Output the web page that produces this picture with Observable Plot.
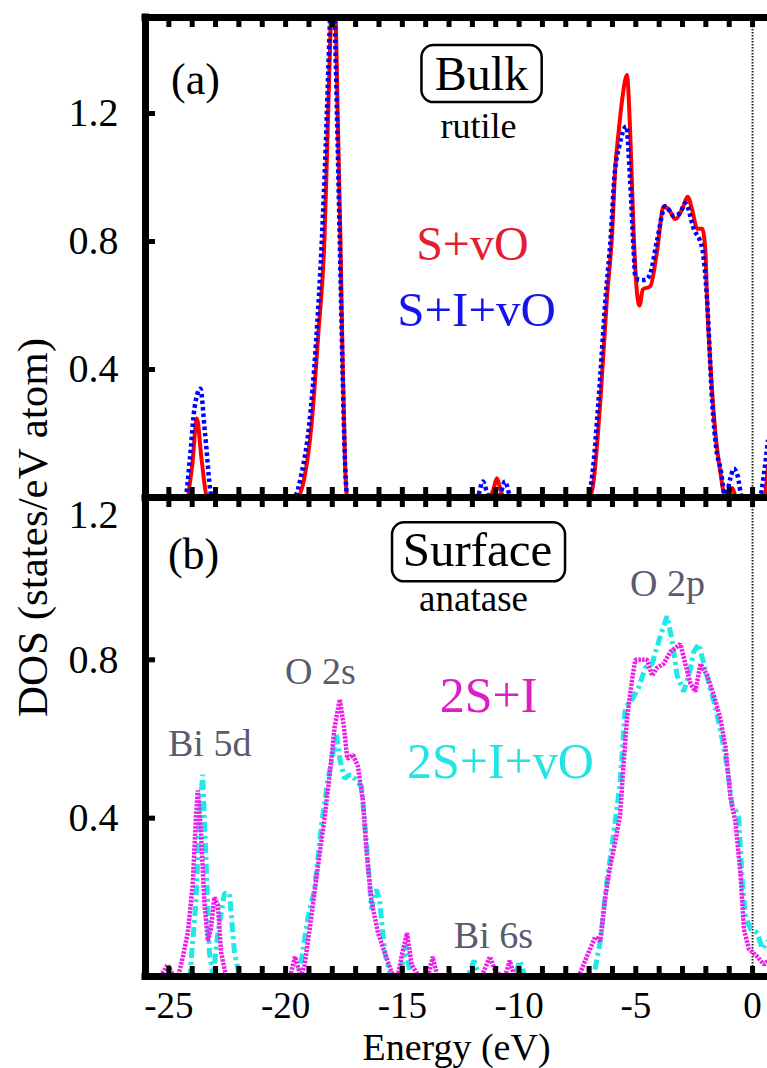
<!DOCTYPE html>
<html>
<head>
<meta charset="utf-8">
<script src="https://cdn.jsdelivr.net/npm/d3@7"></script>
<script src="https://cdn.jsdelivr.net/npm/@observablehq/plot@0.6"></script>
<style>
  html, body { margin: 0; padding: 0; background: #fff; }
  #chart { width: 767px; height: 1068px; overflow: hidden; }
  #chart svg { display: block; }
</style>
</head>
<body>
<div id="chart"></div>
<script>
// ---------- data (energy in eV, DOS in states/eV atom) ----------
const xDomain = [-26, 0.64];
const energyTicks = d3.range(-25, 1);           // minor ticks every 1 eV
const energyTickLabels = [-25, -20, -15, -10, -5, 0];
const bulkTicks = [0.4, 0.8, 1.2];
const surfTicks = [0.4, 0.8];
const surfTopLabel = [1.2];

// (a) Bulk rutile: S+vO (red, solid)
const bulkSvO = [
  [-26, 0], [-24.25, 0], [-24.0, 0.1], [-23.8, 0.247], [-23.6, 0.12], [-23.35, 0],
  [-19.5, 0], [-19.2, 0.06], [-18.9, 0.22], [-18.6, 0.51], [-18.33, 0.82], [-18.2, 1.14],
  [-18.08, 1.45], [-17.95, 1.72], [-17.85, 1.5], [-17.77, 1.2], [-17.65, 0.8], [-17.55, 0.4],
  [-17.45, 0.1], [-17.35, 0],
  [-11.3, 0], [-11.1, 0.025], [-10.95, 0.06], [-10.8, 0.025], [-10.65, 0],
  [-7.0, 0], [-6.85, 0.03], [-6.52, 0.3], [-6.24, 0.62], [-6.02, 0.82], [-5.88, 1.03],
  [-5.74, 1.14], [-5.59, 1.24], [-5.38, 1.32], [-5.24, 1.14], [-5.09, 0.82], [-4.95, 0.64],
  [-4.84, 0.6], [-4.7, 0.65], [-4.38, 0.66], [-4.09, 0.77], [-3.81, 0.91], [-3.59, 0.9],
  [-3.3, 0.87], [-3.02, 0.9], [-2.78, 0.94], [-2.59, 0.9], [-2.37, 0.84], [-2.16, 0.84],
  [-2.02, 0.77], [-1.95, 0.62], [-1.8, 0.41], [-1.59, 0.2], [-1.37, 0.075], [-1.2, 0.01],
  [-1.0, 0.02], [-0.87, 0.03], [-0.7, 0], [0.5, 0], [0.66, 0.1]
];
// (a) Bulk rutile: S+I+vO (blue, dotted)
const bulkSIvO = [
  [-26, 0], [-24.3, 0], [-24.1, 0.12], [-23.9, 0.28], [-23.65, 0.34], [-23.45, 0.2], [-23.15, 0],
  [-19.65, 0], [-19.3, 0.08], [-19.0, 0.22], [-18.7, 0.48], [-18.45, 0.8], [-18.28, 1.1],
  [-18.12, 1.45], [-18.0, 1.7], [-17.9, 1.5], [-17.8, 1.2], [-17.68, 0.8], [-17.56, 0.4],
  [-17.45, 0.1], [-17.35, 0],
  [-11.8, 0], [-11.55, 0.05], [-11.3, 0.005], [-10.85, 0.005], [-10.6, 0.05], [-10.35, 0],
  [-7.1, 0], [-6.9, 0.05], [-6.6, 0.3], [-6.3, 0.62], [-6.07, 0.82], [-5.92, 1.0], [-5.7, 1.1],
  [-5.41, 1.16], [-5.25, 1.0], [-5.1, 0.78], [-5.02, 0.69], [-4.84, 0.68], [-4.6, 0.68],
  [-4.38, 0.7], [-4.1, 0.8], [-3.73, 0.91], [-3.37, 0.88], [-3.1, 0.89], [-2.88, 0.92],
  [-2.52, 0.84], [-2.16, 0.78], [-1.95, 0.62], [-1.73, 0.3], [-1.55, 0.15], [-1.37, 0.09],
  [-1.16, 0], [-0.95, 0.06], [-0.8, 0.09], [-0.65, 0.07], [-0.44, 0], [0.3, 0], [0.5, 0.08],
  [0.66, 0.18]
];
// (b) Surface anatase: 2S+I (magenta, dotted)
const surf2SI = [
  [-26, 0], [-25.35, 0], [-25.05, 0.03], [-24.8, 0], [-24.6, 0], [-24.4, 0.05], [-24.19, 0.11],
  [-23.98, 0.23], [-23.84, 0.4], [-23.76, 0.47], [-23.62, 0.36], [-23.48, 0.19], [-23.33, 0.09],
  [-23.2, 0.12], [-23.05, 0.2], [-22.9, 0.18], [-22.76, 0.06], [-22.55, 0],
  [-19.8, 0], [-19.6, 0.05], [-19.35, 0], [-19.18, 0.03], [-18.9, 0.15], [-18.61, 0.28],
  [-18.33, 0.4], [-18.11, 0.51], [-17.9, 0.63], [-17.68, 0.7], [-17.5, 0.63], [-17.36, 0.55],
  [-17.11, 0.56], [-16.9, 0.53], [-16.68, 0.44], [-16.54, 0.32], [-16.32, 0.19], [-16.04, 0.11],
  [-15.75, 0.06], [-15.46, 0.01], [-15.2, 0], [-15.0, 0.06], [-14.8, 0.11], [-14.6, 0.03],
  [-14.3, 0], [-13.9, 0], [-13.7, 0.05], [-13.5, 0],
  [-11.6, 0], [-11.25, 0.05], [-11.0, 0.01], [-10.6, 0], [-10.4, 0.04], [-10.2, 0],
  [-7.5, 0], [-7.38, 0.01], [-7.1, 0.05], [-6.74, 0.1], [-6.52, 0.09], [-6.31, 0.2],
  [-6.09, 0.28], [-5.88, 0.34], [-5.67, 0.41], [-5.52, 0.54], [-5.38, 0.65], [-5.16, 0.75],
  [-5.02, 0.8], [-4.73, 0.8], [-4.52, 0.8], [-4.3, 0.76], [-4.09, 0.78], [-3.81, 0.79],
  [-3.52, 0.82], [-3.3, 0.83], [-3.09, 0.84], [-2.88, 0.79], [-2.66, 0.74], [-2.45, 0.72],
  [-2.23, 0.79], [-1.94, 0.76], [-1.66, 0.71], [-1.37, 0.65], [-1.16, 0.58], [-0.94, 0.45],
  [-0.73, 0.39], [-0.52, 0.26], [-0.37, 0.12], [-0.16, 0.07], [0.2, 0.05], [0.49, 0.03],
  [0.66, 0.04]
];
// (b) Surface anatase: 2S+I+vO (cyan, dash-dot)
const surf2SIvO = [
  [-26, 0], [-24.1, 0], [-23.84, 0.19], [-23.69, 0.4], [-23.55, 0.51], [-23.4, 0.28],
  [-23.26, 0.06], [-23.1, 0], [-22.9, 0.11], [-22.62, 0.21], [-22.4, 0.21], [-22.19, 0.06],
  [-21.97, 0],
  [-19.5, 0], [-19.3, 0.05], [-19.04, 0.15], [-18.76, 0.22], [-18.47, 0.38], [-18.18, 0.5],
  [-17.82, 0.61], [-17.68, 0.55], [-17.47, 0.5], [-17.25, 0.51], [-17.04, 0.5], [-16.75, 0.48],
  [-16.54, 0.34], [-16.32, 0.17], [-16.11, 0.22], [-15.97, 0.19], [-15.75, 0.06], [-15.5, 0],
  [-15.1, 0], [-14.85, 0.08], [-14.65, 0],
  [-12.2, 0], [-11.93, 0.04], [-11.7, 0], [-10.2, 0], [-9.96, 0.04], [-9.75, 0],
  [-6.8, 0], [-6.52, 0.09], [-6.24, 0.24], [-5.95, 0.36], [-5.67, 0.49], [-5.45, 0.68],
  [-5.16, 0.7], [-4.88, 0.73], [-4.59, 0.78], [-4.3, 0.79], [-3.95, 0.86], [-3.66, 0.91],
  [-3.45, 0.85], [-3.23, 0.76], [-2.95, 0.72], [-2.73, 0.76], [-2.52, 0.82], [-2.3, 0.84],
  [-2.09, 0.79], [-1.87, 0.74], [-1.59, 0.68], [-1.3, 0.6], [-1.09, 0.53], [-0.87, 0.43],
  [-0.73, 0.42], [-0.59, 0.4], [-0.44, 0.24], [-0.3, 0.15], [-0.09, 0.12], [0.2, 0.11],
  [0.42, 0.07], [0.66, 0.09]
];

// text labels
const panelLabels = ["(a)", "(b)"];
const phaseTitles = ["Bulk", "Surface"];
const phaseSubtitles = ["rutile", "anatase"];
const bulkSeriesNames = ["S+vO", "S+I+vO"];
const surfSeriesNames = ["2S+I", "2S+I+vO"];
const orbitalLabels = ["Bi 5d", "O 2s", "Bi 6s", "O 2p"];
const xLabel = "Energy (eV)";
const yLabel = "DOS (states/eV atom)";

// ---------- drawing ----------
const fontFam = "'Liberation Serif', 'DejaVu Serif', serif";
const fmt = d3.format(".1f");
const W = 767, ML = 145;
const innerW = W - ML;
const FRAME = 7, TICKW = 5, TICKL = 10;

function note(txt, x, y, opts = {}) {
  return Plot.text([txt], {x, y, text: d => d, lineAnchor: "bottom", textAnchor: "middle", fontFamily: fontFam, ...opts});
}
function frameMarks(yTop, innerH, yTicks, drawTop) {
  const m = [
    Plot.ruleX([xDomain[0]], {stroke: "#000", strokeWidth: FRAME, strokeLinecap: "square"}),
    Plot.ruleY([0], {stroke: "#000", strokeWidth: FRAME, strokeLinecap: "square"}),
    Plot.ruleX(energyTicks, {x: d => d, stroke: "#000", strokeWidth: TICKW, insetBottom: innerH - TICKL}),
    Plot.ruleX(energyTicks, {x: d => d, stroke: "#000", strokeWidth: TICKW, insetTop: innerH - TICKL}),
    Plot.ruleY(yTicks, {y: d => d, stroke: "#000", strokeWidth: TICKW, insetRight: innerW - TICKL})
  ];
  if (drawTop) m.push(Plot.ruleY([yTop], {stroke: "#000", strokeWidth: FRAME, strokeLinecap: "square"}));
  return m;
}
const svgStyle = `font-family: ${fontFam}; font-size: 40px; background: transparent; overflow: visible; color: #000;`;
const fermi = [0];

const hA = 497, mtA = 17, innerHA = hA - mtA;
const yTopA = 1.5;
const panelA = Plot.plot({
  width: W, height: hA, marginTop: mtA, marginBottom: 0, marginLeft: ML, marginRight: 0,
  x: {domain: xDomain, axis: null},
  y: {domain: [0, yTopA]},
  style: svgStyle,
  marks: [
    Plot.ruleX(fermi, {stroke: "#222", strokeWidth: 2, strokeDasharray: "1.5,1.5"}),
    Plot.line(bulkSvO, {x: d => d[0], y: d => d[1], stroke: "#ff0000", strokeWidth: 4, curve: "monotone-x", clip: true}),
    Plot.line(bulkSIvO, {x: d => d[0], y: d => d[1], stroke: "#0000ff", strokeWidth: 4.5, strokeDasharray: "3.5,3", strokeLinecap: "butt", curve: "monotone-x", clip: true}),
    ...frameMarks(yTopA, innerHA, bulkTicks, true),
    Plot.axisY({ticks: bulkTicks, tickSize: 0, tickPadding: 27, tickFormat: fmt, label: null, fontSize: 40, fontFamily: fontFam}),
    note(panelLabels[0], -23.86, 1.2625, {fontSize: 44}),
    Plot.rect([phaseTitles[0]], {x1: -14.16, x2: -9.01, y1: 1.234, y2: 1.4125, rx: 12, fill: "none", stroke: "#000", strokeWidth: 2.5}),
    note(phaseTitles[0], -11.61, 1.272, {fontSize: 48}),
    note(phaseSubtitles[0], -11.74, 1.125, {fontSize: 36}),
    note(bulkSeriesNames[0], -12.0, 0.741, {fontSize: 48, fill: "#e41c34"}),
    note(bulkSeriesNames[1], -11.82, 0.5375, {fontSize: 49, fill: "#1414ee"})
  ]
});

const hB = 571, mbB = 92, innerHB = hB - mbB;
const yTopB = 1.21;
const gray = "#5a5a6e";
const panelB = Plot.plot({
  width: W, height: hB, marginTop: 0, marginBottom: mbB, marginLeft: ML, marginRight: 0,
  x: {domain: xDomain},
  y: {domain: [0, yTopB]},
  style: svgStyle,
  marks: [
    Plot.ruleX(fermi, {stroke: "#222", strokeWidth: 2, strokeDasharray: "1.5,1.5"}),
    Plot.line(surf2SIvO, {x: d => d[0], y: d => d[1], stroke: "#1ee8e8", strokeWidth: 5, strokeDasharray: "10,4,3,4", strokeLinecap: "butt", strokeLinejoin: "miter", clip: true}),
    Plot.line(surf2SI, {x: d => d[0], y: d => d[1], stroke: "#ee1ee6", strokeWidth: 4.5, strokeDasharray: "2.5,1.2", strokeLinecap: "butt", strokeLinejoin: "miter", clip: true}),
    ...frameMarks(yTopB, innerHB, surfTicks, false),
    Plot.axisY({ticks: surfTicks, tickSize: 0, tickPadding: 27, tickFormat: fmt, label: null, fontSize: 40, fontFamily: fontFam}),
    Plot.text(surfTopLabel, {y: d => d, frameAnchor: "left", dx: -27, dy: 14, textAnchor: "end", text: fmt, fontSize: 40, fontFamily: fontFam}),
    Plot.axisX({ticks: energyTickLabels, tickSize: 0, tickPadding: 15, tickFormat: d => String(d), label: null, fontSize: 37, fontFamily: fontFam}),
    Plot.text([xLabel], {text: d => d, frameAnchor: "bottom", dy: 83, lineAnchor: "bottom", fontSize: 38, fontFamily: fontFam}),
    Plot.text([yLabel], {text: d => d, frameAnchor: "top-left", dx: 46 - ML, dy: 30, rotate: -90, lineAnchor: "bottom", textAnchor: "middle", fontSize: 43, fontFamily: fontFam}),
    note(panelLabels[1], -23.94, 1.03, {fontSize: 44}),
    Plot.rect([phaseTitles[1]], {x1: -15.42, x2: -8.01, y1: 0.997, y2: 1.146, rx: 12, fill: "none", stroke: "#000", strokeWidth: 2.5}),
    note(phaseTitles[1], -11.78, 1.038, {fontSize: 49}),
    note(phaseSubtitles[1], -11.95, 0.924, {fontSize: 37}),
    note(surfSeriesNames[0], -11.31, 0.667, {fontSize: 50, fill: "#dc1fc0"}),
    note(surfSeriesNames[1], -10.8, 0.5025, {fontSize: 50, fill: "#22e4e4"}),
    note(orbitalLabels[0], -23.25, 0.558, {fontSize: 38, fill: gray}),
    note(orbitalLabels[1], -18.51, 0.74, {fontSize: 38, fill: gray}),
    note(orbitalLabels[2], -11.1, 0.073, {fontSize: 38, fill: gray}),
    note(orbitalLabels[3], -3.64, 0.962, {fontSize: 38, fill: gray})
  ]
});

const chart = document.getElementById("chart");
chart.appendChild(panelA);
chart.appendChild(panelB);
chart.querySelectorAll("svg, g, text").forEach(el => {
  el.setAttribute("font-family", "Liberation Serif, DejaVu Serif, serif");
  el.style.setProperty("font-family", fontFam, "important");
});
</script>
</body>
</html>
